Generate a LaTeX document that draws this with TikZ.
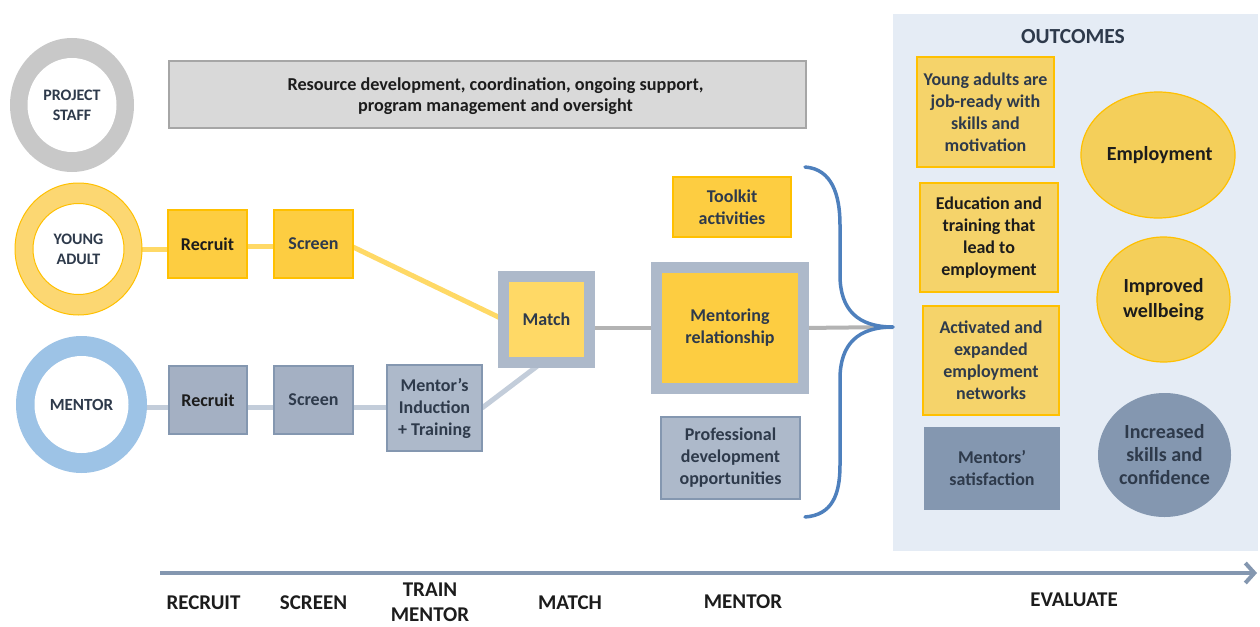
\documentclass[tikz,border=0pt]{standalone}
\usepackage{fontspec}
\setmainfont{Carlito}
\usetikzlibrary{shapes.geometric,arrows.meta}

\definecolor{ringgray}{HTML}{C8C8C8}
\definecolor{ringyel}{HTML}{FCD772}
\definecolor{yedge}{HTML}{FFC000}
\definecolor{ringblue}{HTML}{9DC3E6}
\definecolor{yfill}{HTML}{FDCD41}
\definecolor{matchfill}{HTML}{FFD966}
\definecolor{bfill}{HTML}{A4B0C3}
\definecolor{bedge}{HTML}{8497B0}
\definecolor{framec}{HTML}{ADB9CA}
\definecolor{panel}{HTML}{E5ECF5}
\definecolor{ofill}{HTML}{F5D36A}
\definecolor{ocirc}{HTML}{F4CF5A}
\definecolor{slatefill}{HTML}{8497B0}
\definecolor{hdrfill}{HTML}{D9D9D9}
\definecolor{hdredge}{HTML}{A6A6A6}
\definecolor{yline}{HTML}{FFD966}
\definecolor{bline}{HTML}{C3CDDA}
\definecolor{gline}{HTML}{B3B3B3}
\definecolor{bracec}{HTML}{4E80BD}
\definecolor{axisc}{HTML}{8497B0}
\definecolor{ink}{HTML}{1C1C1C}
\definecolor{slate}{HTML}{2E3A4B}

\pgfdeclarelayer{back}
\pgfdeclarelayer{links}
\pgfsetlayers{back,links,main}

\tikzset{
  base/.style={inner sep=0pt, outer sep=0pt, align=center, text=ink,
    font=\bfseries\fontsize{18}{22}\selectfont},
  ybox/.style={base, rectangle, fill=yfill, draw=yedge, line width=1.5pt},
  bbox/.style={base, rectangle, fill=bfill, draw=bedge, line width=1.5pt},
  ibox/.style={base, rectangle, fill=framec, draw=bedge, line width=1.5pt},
  framebox/.style={base, rectangle, draw=framec, line width=11pt},
  obox/.style={base, rectangle, fill=ofill, draw=yedge, line width=1.5pt},
  ring/.style={ellipse, inner sep=0pt, outer sep=0pt},
  core/.style={ellipse, inner sep=0pt, outer sep=0pt, fill=white, align=center,
    text=slate, font=\bfseries\fontsize{16}{20}\selectfont},
  ocircle/.style={ellipse, inner sep=0pt, outer sep=0pt, align=center,
    font=\bfseries\fontsize{20}{25}\selectfont},
  yconn/.style={draw=yline, line width=5pt},
  bconn/.style={draw=bline, line width=5pt},
  gconn/.style={draw=gline, line width=4pt},
  stage/.style={inner sep=0pt, align=center, text=ink,
    font=\bfseries\fontsize{21}{25}\selectfont},
}

\begin{document}
\begin{tikzpicture}[x=1pt, y=-1pt]
\useasboundingbox (0,0) rectangle (1260,626);

% ---- outcomes panel
\begin{pgfonlayer}{back}
  \fill[panel] (893,14) rectangle (1258,551);
\end{pgfonlayer}

% ---- actor rings
\node[ring, fill=ringgray, minimum width=124pt, minimum height=134pt] (staffout) at (72,105) {};
\node[core, minimum width=89pt, minimum height=94pt] (staffin) at (72,105) {PROJECT\\STAFF};

\node[ring, fill=ringyel, draw=yedge, line width=1pt, minimum width=127pt, minimum height=132pt] (youngout) at (78.5,249) {};
\node[core, draw=yedge, line width=1pt, minimum width=91pt, minimum height=91pt] (youngin) at (78.5,249) {YOUNG\\ADULT};

\node[ring, fill=ringblue, minimum width=131pt, minimum height=137pt] (mentorout) at (81.5,404.5) {};
\node[core, minimum width=94pt, minimum height=97pt, font=\bfseries\fontsize{17}{20}\selectfont] (mentorin) at (81.5,404.5) {MENTOR};

% ---- management bar
\node[base, rectangle, fill=hdrfill, draw=hdredge, line width=2pt,
      minimum width=637pt, minimum height=67pt] (hdr) at (487.5,94.5) {};
\node[base, font=\bfseries\fontsize{18.2}{21.5}\selectfont] (hdrtxt) at (495.5,96)
  {Resource development, coordination, ongoing support,\\program management and oversight};

% ---- young adult pathway
\node[ybox, minimum width=79pt, minimum height=68pt] (yrecruit) at (207.5,244) {Recruit};
\node[ybox, minimum width=79pt, minimum height=68pt, text=slate] (yscreen) at (313.5,244) {Screen};

% ---- mentor pathway
\node[bbox, minimum width=78pt, minimum height=68pt] (mrecruit) at (208,400) {Recruit};
\node[bbox, minimum width=79pt, minimum height=68pt, text=slate] (mscreen) at (313.5,400) {Screen};
\node[ibox, minimum width=95pt, minimum height=86pt, text=slate] (induct) at (434.5,408) {Mentor’s\\Induction\\+ Training};

% ---- matching and mentoring
\node[framebox, fill=matchfill, minimum width=86pt, minimum height=86pt, text=slate] (match) at (546.5,319.5) {Match};
\node[framebox, fill=yfill, minimum width=147pt, minimum height=121pt, text=slate] (mentoring) at (730,328) {Mentoring\\relationship};
\node[ybox, minimum width=118pt, minimum height=60pt, text=slate] (toolkit) at (732,207) {Toolkit\\activities};
\node[ibox, minimum width=139pt, minimum height=82pt, text=slate] (profdev) at (730.5,458) {Professional\\development\\opportunities};

% ---- brace gathering the mentoring stage
\coordinate (bracetip) at (893,327);
\coordinate (bracetop) at (805,167);
\coordinate (bracebot) at (805,517);
\draw[bracec, line width=3.5pt, line cap=round, line join=round]
  (bracetop) .. controls (832,169) and (840,195) .. (840,225)
  -- (840,275) .. controls (840,310) and (858,327) .. (bracetip)
  .. controls (858,327) and (840,344) .. (840,379)
  -- (840,465) .. controls (840,495) and (832,515) .. (bracebot);

% ---- connectors
\begin{pgfonlayer}{links}
  \draw[yconn] (youngout.east) -- (youngout.east -| yrecruit.west);
  \draw[yconn] ([yshift=-2pt]yrecruit.east) -- ([yshift=-2pt]yscreen.west);
  \draw[yconn] ([yshift=-3pt]yscreen.east) -- (match.west);
  \draw[bconn] ([yshift=-2.5pt]mentorout.east) -- ([yshift=-2.5pt]mentorout.east -| mrecruit.west);
  \draw[bconn] ([yshift=-7pt]mrecruit.east) -- ([yshift=-7pt]mscreen.west);
  \draw[bconn] ([yshift=-7pt]mscreen.east) -- ([yshift=-7pt]mscreen.east -| induct.west);
  \draw[bconn] (induct.east) -- ([xshift=-4.5pt]match.south);
  \draw[gconn] (mentoring.west -| match.east) -- (mentoring.west);
  \draw[gconn] (mentoring.east) -- (bracetip);
\end{pgfonlayer}

% ---- outcomes
\node[base, font=\bfseries\fontsize{21.5}{24}\selectfont, text=slate] (outtitle) at (1073,37) {OUTCOMES};
\node[obox, minimum width=137pt, minimum height=110pt, text=slate] (o1) at (985.5,112) {Young adults are\\job-ready with\\skills and\\motivation};
\node[obox, minimum width=138pt, minimum height=109pt] (o2) at (989,237.5) {Education and\\training that\\lead to\\employment};
\node[obox, minimum width=136pt, minimum height=109pt, text=slate] (o3) at (991,360.5) {Activated and\\expanded\\employment\\networks};
\node[base, rectangle, fill=slatefill, minimum width=136pt, minimum height=83pt, text=slate] (o4) at (992,468.5) {Mentors’\\satisfaction};

\node[ocircle, fill=ocirc, draw=yedge, line width=1.2pt, minimum width=134pt, minimum height=126pt, text=ink] (employ) at (1158,155) {\,Employment};
\node[ocircle, fill=ocirc, draw=yedge, line width=1.2pt, minimum width=133pt, minimum height=125pt, text=ink] (wellbeing) at (1163.5,299.5) {Improved\\wellbeing};
\node[ocircle, fill=slatefill, minimum width=133pt, minimum height=124pt, text=slate, font=\bfseries\fontsize{20}{23}\selectfont] (skills) at (1164.5,455) {Increased\\skills and\\confidence};

% ---- timeline
\coordinate (tstart) at (160,573);
\coordinate (tend) at (1257,573);
\draw[axisc, line width=4pt, -{Straight Barb[length=9pt, width=20pt, line width=4pt]}] (tstart) -- (tend);

\node[stage] (s1) at (203.5,603) {RECRUIT};
\node[stage] (s2) at (313.5,603) {SCREEN};
\node[stage] (s3) at (430,602) {TRAIN\\MENTOR};
\node[stage] (s4) at (570,603) {MATCH};
\node[stage] (s5) at (743,602) {MENTOR};
\node[stage] (s6) at (1074,600) {EVALUATE};
\end{tikzpicture}
\end{document}
